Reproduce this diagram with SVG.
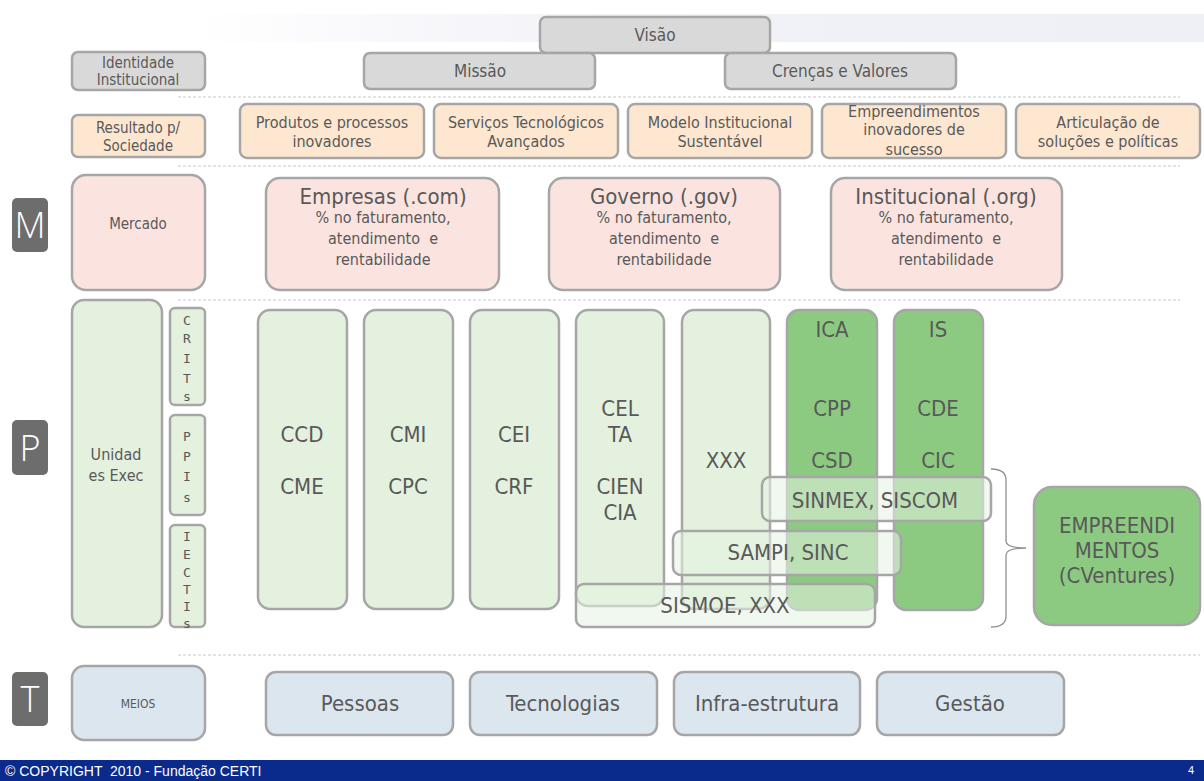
<svg xmlns="http://www.w3.org/2000/svg" width="1204" height="781" viewBox="0 0 1204 781">
  <defs>
    <linearGradient id="topBand" x1="0" y1="0" x2="1" y2="0">
      <stop offset="0" stop-color="#ffffff"/>
      <stop offset="0.4" stop-color="#f2f2f8"/>
      <stop offset="1" stop-color="#eef0f6"/>
    </linearGradient>
    <style>
      text { font-family: "DejaVu Sans Condensed", "DejaVu Sans", sans-serif; fill: #595959; text-anchor: middle; white-space: pre; }
      .box { stroke: #a6a6a6; stroke-width: 2.5; }
      .grey { fill: #d9d9d9; }
      .orange { fill: #fde7d0; }
      .pink { fill: #fbe4e0; }
      .pale { fill: #e3f1de; }
      .dark { fill: #8cca82; }
      .blue { fill: #dce6ef; }
      .overlay { fill: #e6f2e1; fill-opacity: 0.55; stroke: #a6a6a6; stroke-width: 2.5; }
      .badge { fill: #6d6d6d; }
      .badge-t { fill: #ffffff; font-family: "Open Sans", "DejaVu Sans", sans-serif; font-weight: 300; font-size: 36px; }
      .sep { stroke: #c8c8c8; stroke-width: 1.2; stroke-dasharray: 3 2; fill: none; }
      .vert { font-family: "DejaVu Sans Mono", monospace; font-size: 13px; }
      .s12 { font-size: 12px; }
      .s15 { font-size: 15px; }
      .s16 { font-size: 16px; }
      .s17 { font-size: 17px; }
      .s22 { font-size: 22px; }
      .foot { text-anchor: start; fill: #ffffff; font-family: "Liberation Sans", Arial, sans-serif; }
    </style>
  </defs>

  <rect x="0" y="0" width="1204" height="781" fill="#ffffff"/>
  <rect x="190" y="14" width="1014" height="28" fill="url(#topBand)"/>

  <!-- layer separators -->
  <g id="separators">
    <line class="sep" x1="178" y1="97" x2="1180" y2="97"/>
    <line class="sep" x1="178" y1="166" x2="1180" y2="166"/>
    <line class="sep" x1="178" y1="300" x2="1180" y2="300"/>
    <line class="sep" x1="178" y1="655" x2="1200" y2="655"/>
  </g>

  <!-- institutional identity -->
  <g id="visao"><rect class="box grey" x="540" y="17" width="230" height="36" rx="6"/><text class="s17" x="655" y="41">Visão</text></g>
  <g id="missao"><rect class="box grey" x="364" y="53" width="231" height="36" rx="6"/><text class="s17" x="480" y="77">Missão</text></g>
  <g id="crencas"><rect class="box grey" x="725" y="53" width="231" height="36" rx="6"/><text class="s17" x="840" y="77">Crenças e Valores</text></g>
  <g id="identidade"><rect class="box grey" x="72" y="52" width="133" height="38" rx="6"/><text class="s15" x="138" y="68">Identidade</text><text class="s15" x="138" y="85">Institucional</text></g>

  <!-- results for society -->
  <g id="resultado"><rect class="box orange" x="72" y="115" width="133" height="42" rx="6"/><text class="s15" x="138" y="133">Resultado p/</text><text class="s15" x="138" y="151">Sociedade</text></g>
  <g id="produtos"><rect class="box orange" x="240" y="104" width="184" height="54" rx="7"/><text class="s16" x="332" y="128">Produtos e processos</text><text class="s16" x="332" y="147">inovadores</text></g>
  <g id="servicos"><rect class="box orange" x="434" y="104" width="184" height="54" rx="7"/><text class="s16" x="526" y="128">Serviços Tecnológicos</text><text class="s16" x="526" y="147">Avançados</text></g>
  <g id="modelo"><rect class="box orange" x="628" y="104" width="184" height="54" rx="7"/><text class="s16" x="720" y="128">Modelo Institucional</text><text class="s16" x="720" y="147">Sustentável</text></g>
  <g id="empreendimentos-inov"><rect class="box orange" x="822" y="104" width="184" height="54" rx="7"/><text class="s16" x="914" y="117">Empreendimentos</text><text class="s16" x="914" y="135">inovadores de</text><text class="s16" x="914" y="155">sucesso</text></g>
  <g id="articulacao"><rect class="box orange" x="1016" y="104" width="184" height="54" rx="7"/><text class="s16" x="1108" y="128">Articulação de</text><text class="s16" x="1108" y="147">soluções e políticas</text></g>

  <!-- M: market -->
  <g id="badge-m"><rect class="badge" x="12" y="198" width="36" height="54" rx="5"/><text class="badge-t" x="30" y="238">M</text></g>
  <g id="mercado"><rect class="box pink" x="72" y="175" width="133" height="115" rx="14"/><text class="s15" x="138" y="229">Mercado</text></g>
  <g id="empresas"><rect class="box pink" x="266" y="178" width="233" height="112" rx="14"/><text class="s22" x="383" y="204">Empresas (.com)</text><text class="s16" x="383" y="223">% no faturamento,</text><text class="s16" x="383" y="244">atendimento  e</text><text class="s16" x="383" y="265">rentabilidade</text></g>
  <g id="governo"><rect class="box pink" x="549" y="178" width="231" height="112" rx="14"/><text class="s22" x="664" y="204">Governo (.gov)</text><text class="s16" x="664" y="223">% no faturamento,</text><text class="s16" x="664" y="244">atendimento  e</text><text class="s16" x="664" y="265">rentabilidade</text></g>
  <g id="institucional"><rect class="box pink" x="831" y="178" width="231" height="112" rx="14"/><text class="s22" x="946" y="204">Institucional (.org)</text><text class="s16" x="946" y="223">% no faturamento,</text><text class="s16" x="946" y="244">atendimento  e</text><text class="s16" x="946" y="265">rentabilidade</text></g>

  <!-- P: processes -->
  <g id="badge-p"><rect class="badge" x="12" y="420" width="36" height="55" rx="5"/><text class="badge-t" x="30" y="461">P</text></g>
  <g id="unidades"><rect class="box pale" x="72" y="300" width="90" height="327" rx="12"/><text class="s16" x="116" y="460">Unidad</text><text class="s16" x="116" y="481">es Exec</text></g>
  <g id="crits"><rect class="box pale" x="170" y="308" width="35" height="97" rx="5"/>
    <text class="vert" x="187" y="325">C</text><text class="vert" x="187" y="343">R</text><text class="vert" x="187" y="363">I</text><text class="vert" x="187" y="383">T</text><text class="vert" x="187" y="401">s</text></g>
  <g id="ppis"><rect class="box pale" x="170" y="415" width="35" height="100" rx="5"/>
    <text class="vert" x="187" y="441">P</text><text class="vert" x="187" y="461">P</text><text class="vert" x="187" y="481">I</text><text class="vert" x="187" y="502">s</text></g>
  <g id="iectis"><rect class="box pale" x="170" y="525" width="35" height="102" rx="5"/>
    <text class="vert" x="187" y="541">I</text><text class="vert" x="187" y="559">E</text><text class="vert" x="187" y="577">C</text><text class="vert" x="187" y="594">T</text><text class="vert" x="187" y="611">I</text><text class="vert" x="187" y="628">s</text></g>

  <g id="ccd"><rect class="box pale" x="258" y="310" width="89" height="299" rx="12"/><text class="s22" x="302" y="442">CCD</text><text class="s22" x="302" y="494">CME</text></g>
  <g id="cmi"><rect class="box pale" x="364" y="310" width="89" height="299" rx="12"/><text class="s22" x="408" y="442">CMI</text><text class="s22" x="408" y="494">CPC</text></g>
  <g id="cei"><rect class="box pale" x="470" y="310" width="89" height="299" rx="12"/><text class="s22" x="514" y="442">CEI</text><text class="s22" x="514" y="494">CRF</text></g>
  <g id="celta"><rect class="box pale" x="576" y="310" width="88" height="296" rx="12"/><text class="s22" x="620" y="416">CEL</text><text class="s22" x="620" y="442">TA</text><text class="s22" x="620" y="494">CIEN</text><text class="s22" x="620" y="520">CIA</text></g>
  <g id="xxx"><rect class="box pale" x="682" y="310" width="88" height="299" rx="12"/><text class="s22" x="726" y="468">XXX</text></g>
  <g id="ica"><rect class="box dark" x="787" y="310" width="90" height="300" rx="12"/><text class="s22" x="832" y="337">ICA</text><text class="s22" x="832" y="416">CPP</text><text class="s22" x="832" y="468">CSD</text></g>
  <g id="is"><rect class="box dark" x="894" y="310" width="89" height="300" rx="12"/><text class="s22" x="938" y="337">IS</text><text class="s22" x="938" y="416">CDE</text><text class="s22" x="938" y="468">CIC</text></g>

  <!-- cross-cutting programmes -->
  <g id="sinmex"><rect class="overlay" x="762" y="477" width="229" height="44" rx="8"/><text class="s22" x="875" y="508">SINMEX, SISCOM</text></g>
  <g id="sampi"><rect class="overlay" x="673" y="531" width="228" height="44" rx="8"/><text class="s22" x="788" y="560">SAMPI, SINC</text></g>
  <g id="sismoe"><rect class="overlay" x="576" y="584" width="299" height="43" rx="8"/><text class="s22" x="725" y="613">SISMOE, XXX</text></g>

  <g id="connectors">
    <path d="M991 469 Q1006 469 1006 480 L1006 541 Q1006 548 1026 548 Q1006 548 1006 555 L1006 616 Q1006 627 991 627" fill="none" stroke="#909090" stroke-width="1.3"/>
  </g>

  <g id="empreendimentos"><rect class="box dark" x="1034" y="487" width="166" height="138" rx="18"/><text class="s22" x="1117" y="533">EMPREENDI</text><text class="s22" x="1117" y="558">MENTOS</text><text class="s22" x="1117" y="583">(CVentures)</text></g>

  <!-- T: means -->
  <g id="badge-t"><rect class="badge" x="12" y="672" width="36" height="54" rx="5"/><text class="badge-t" x="30" y="712">T</text></g>
  <g id="meios"><rect class="box blue" x="72" y="666" width="133" height="74" rx="12"/><text class="s12" x="138" y="708">MEIOS</text></g>
  <g id="pessoas"><rect class="box blue" x="266" y="672" width="187" height="63" rx="10"/><text class="s22" x="360" y="711">Pessoas</text></g>
  <g id="tecnologias"><rect class="box blue" x="470" y="672" width="187" height="63" rx="10"/><text class="s22" x="563" y="711">Tecnologias</text></g>
  <g id="infra"><rect class="box blue" x="674" y="672" width="186" height="63" rx="10"/><text class="s22" x="767" y="711">Infra-estrutura</text></g>
  <g id="gestao"><rect class="box blue" x="877" y="672" width="187" height="63" rx="10"/><text class="s22" x="970" y="711">Gestão</text></g>

  <!-- footer -->
  <g id="footer">
    <rect x="0" y="760" width="1204" height="21" fill="#0a2a8c"/>
    <text class="foot" x="5" y="776" font-size="14">© COPYRIGHT  2010 - Fundação CERTI</text>
    <text class="foot" x="1188" y="774" font-size="11">4</text>
  </g>
</svg>
